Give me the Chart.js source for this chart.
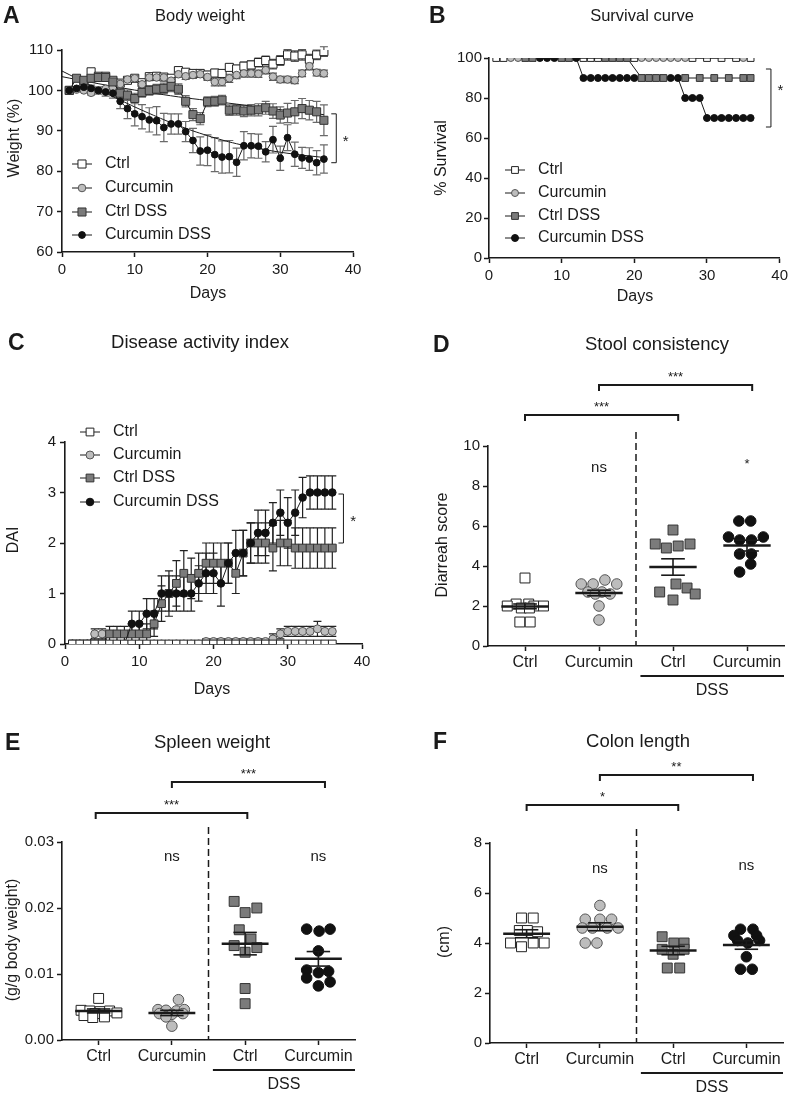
<!DOCTYPE html>
<html>
<head>
<meta charset="utf-8">
<title>Curcumin and DSS colitis</title>
<script src="https://cdn.jsdelivr.net/npm/chart.js@4.4.1/dist/chart.umd.min.js"></script>
<style>
  html, body { margin: 0; padding: 0; background: #fff; }
  body { position: relative; width: 792px; height: 1096px; overflow: hidden; }
  canvas { position: absolute; }
</style>
</head>
<body>
<canvas id="chartA"></canvas>
<canvas id="chartB"></canvas>
<canvas id="chartC"></canvas>
<canvas id="chartD"></canvas>
<canvas id="chartE"></canvas>
<canvas id="chartF"></canvas>
<script>
const FONT = '"Liberation Sans", Arial, Helvetica, sans-serif';
const INK = '#1a1a1a';

// ---------- data ----------
const groups = ['Ctrl', 'Curcumin', 'Ctrl DSS', 'Curcumin DSS'];
const catLabels = ['Ctrl', 'Curcumin', 'Ctrl', 'Curcumin'];
const days = [1, 2, 3, 4, 5, 6, 7, 8, 9, 10, 11, 12, 13, 14, 15, 16, 17, 18,
  19, 20, 21, 22, 23, 24, 25, 26, 27, 28, 29, 30, 31, 32, 33, 34, 35, 36];
const dayTicks = [0, 10, 20, 30, 40];

// A - body weight (%)
const aCtrl = [100, 101.5, 102, 104.6, 103.5, 103.5, 102.5, 101.8, 102.5, 103, 101.9, 103.4, 103.5, 103.3, 103, 104.9, 104.5, 104.2,
  104.2, 103.8, 104.3, 104.2, 105.7, 105.3, 106, 106.3, 106.9, 107.4, 106.5, 107.4, 108.8, 108.5, 108.8, 107.7, 108.8, 109.6];
const aCur = [100, 100.2, 100, 99.4, 100, 100.4, 100.8, 101.6, 102.7, 103, 101.5, 103.2, 103.2, 103.2, 102.4, 104, 103.5, 103.8,
  104, 103.3, 102.1, 102.1, 103, 103.8, 104.2, 104.2, 104.1, 105, 103.4, 102.7, 102.7, 102.5, 104.2, 106, 104.4, 104.2];
const aCtrlDSS = [100, 103, 102.5, 103, 103.2, 103.2, 102.1, 99.3, 98.8, 98, 99.5, 100, 100.3, 100.5, 101, 100.3, 97.3, 94,
  93, 97.2, 97.3, 97.6, 95.1, 95.2, 94.9, 95.1, 95.2, 95.7, 94.9, 93.9, 94.4, 94.7, 95.5, 95.1, 94.7, 92.6];
const aCurDSS = [100, 100.5, 100.8, 100.5, 100, 99.6, 99.3, 97.3, 95.5, 94.2, 93.5, 92.7, 92.5, 90.8, 91.7, 91.7, 89.8, 87.6,
  85, 85.2, 84.1, 83.5, 83.6, 82.2, 86.3, 86.3, 86.2, 84.8, 87.8, 83.2, 88.3, 84.2, 83.3, 83, 82.1, 83];
const aCtrlSem = [0, 0.6, 0.6, 0.8, 0.6, 0.6, 0.6, 0.6, 0.6, 0.6, 0.6, 0.6, 0.7, 0.7, 0.7, 0.8, 0.8, 0.8,
  0.8, 0.9, 0.9, 0.9, 0.9, 0.9, 1.0, 1.0, 1.1, 1.1, 1.2, 1.2, 1.3, 1.3, 1.3, 1.2, 1.2, 1.2];
const aCurSem = [0, 0.4, 0.4, 0.5, 0.5, 0.5, 0.5, 0.6, 0.6, 0.6, 0.7, 0.7, 0.7, 0.7, 0.7, 0.7, 0.8, 0.8,
  0.8, 0.8, 1.0, 1.0, 1.0, 0.9, 0.9, 0.9, 0.9, 0.9, 0.9, 0.8, 0.8, 0.8, 0.8, 0.9, 0.8, 0.8];
const aCtrlDSSSem = [0, 0.6, 0.7, 0.8, 0.8, 0.8, 0.9, 1.2, 1.3, 1.3, 1.2, 1.2, 1.2, 1.3, 1.3, 1.3, 1.4, 1.5,
  1.5, 1.2, 1.2, 1.2, 1.3, 1.3, 1.4, 1.4, 1.5, 1.6, 1.8, 2.0, 2.4, 2.8, 2.5, 2.4, 2.6, 3.8];
const aCurDSSSem = [0, 0.6, 0.7, 0.8, 0.9, 1.0, 1.2, 1.8, 2.5, 3.0, 3.0, 3.0, 3.5, 3.5, 2.5, 2.5, 2.5, 3.0,
  3.5, 3.8, 4.2, 4.0, 4.0, 3.5, 3.5, 3.0, 3.0, 2.5, 3.3, 3.0, 3.2, 3.0, 2.6, 2.8, 3.0, 3.5];
const aFitDays = [0, 4, 8, 12, 16, 20, 24, 28, 32, 36];
const aFitCtrlDSS = [103.4, 102.0, 100.7, 99.5, 98.4, 97.5, 96.6, 95.7, 94.8, 94.0];
const aFitCurDSS = [104.8, 101.2, 97.6, 94.3, 91.3, 88.8, 86.8, 85.3, 84.2, 83.4];
const aYTicks = [60, 70, 80, 90, 100, 110];

// B - survival (%)
const bCtrlDays = [1, 2, 13, 14, 15, 20, 28, 30, 32, 34, 36];
const bCtrl = [100, 100, 100, 100, 100, 100, 100, 100, 100, 100, 100];
const bCurDays = [3, 4, 21, 22, 23, 24, 25, 26, 27, 35];
const bCur = [100, 100, 100, 100, 100, 100, 100, 100, 100, 100];
const bCtrlDSSDays = [5, 6, 10, 11, 16, 17, 18, 19, 21, 22, 23, 24, 27, 29, 31, 33, 35, 36];
const bCtrlDSS = [100, 100, 100, 100, 100, 100, 100, 100, 90, 90, 90, 90, 90, 90, 90, 90, 90, 90];
const bCurDSSDays = [7, 8, 9, 12, 13, 14, 15, 16, 17, 18, 19, 20, 25, 26, 27, 28, 29, 30, 31, 32, 33, 34, 35, 36];
const bCurDSS = [100, 100, 100, 100, 90, 90, 90, 90, 90, 90, 90, 90, 90, 90, 80, 80, 80, 70, 70, 70, 70, 70, 70, 70];
const bYTicks = [0, 20, 40, 60, 80, 100];

// C - disease activity index
const cCtrl = [0, 0, 0, 0, 0, 0, 0, 0, 0, 0, 0, 0, 0, 0, 0, 0, 0, 0,
  0, 0, 0, 0, 0, 0, 0, 0, 0, 0, 0, 0, 0, 0, 0, 0, 0, 0];
const cCur = [0, 0, 0, 0.2, 0.2, 0, 0, 0, 0, 0, 0, 0, 0, 0, 0, 0, 0, 0,
  0.05, 0.05, 0.05, 0.05, 0.05, 0.05, 0.05, 0.05, 0.05, 0.1, 0.2, 0.25, 0.25, 0.25, 0.25, 0.3, 0.25, 0.25];
const cCtrlDSS = [0, 0, 0, 0, 0, 0.2, 0.2, 0.2, 0.2, 0.2, 0.2, 0.4, 0.8, 1.0, 1.2, 1.4, 1.3, 1.4,
  1.6, 1.6, 1.6, 1.6, 1.4, 1.8, 2.0, 2.0, 2.0, 1.9, 2.0, 2.0, 1.9, 1.9, 1.9, 1.9, 1.9, 1.9];
const cCurDSS = [0, 0, 0, 0, 0, 0, 0, 0, 0.4, 0.4, 0.6, 0.6, 1.0, 1.0, 1.0, 1.0, 1.0, 1.2,
  1.4, 1.4, 1.2, 1.6, 1.8, 1.8, 2.0, 2.2, 2.2, 2.4, 2.6, 2.4, 2.6, 2.9, 3.0, 3.0, 3.0, 3.0];
const cCurSem = [0, 0, 0, 0.1, 0.1, 0, 0, 0, 0, 0, 0, 0, 0, 0, 0, 0, 0, 0,
  0.05, 0.05, 0.05, 0.05, 0.05, 0.05, 0.05, 0.05, 0.05, 0.1, 0.1, 0.1, 0.1, 0.1, 0.1, 0.15, 0.1, 0.1];
const cCtrlDSSSem = [0, 0, 0, 0, 0, 0.15, 0.15, 0.15, 0.2, 0.2, 0.2, 0.25, 0.35, 0.45, 0.45, 0.45, 0.4, 0.4,
  0.4, 0.4, 0.4, 0.4, 0.4, 0.45, 0.4, 0.4, 0.4, 0.45, 0.45, 0.45, 0.4, 0.4, 0.4, 0.4, 0.4, 0.4];
const cCurDSSSem = [0, 0, 0, 0, 0, 0, 0, 0, 0.25, 0.25, 0.3, 0.3, 0.35, 0.35, 0.35, 0.35, 0.35, 0.35,
  0.4, 0.4, 0.45, 0.4, 0.45, 0.45, 0.4, 0.45, 0.45, 0.4, 0.45, 0.5, 0.45, 0.4, 0.33, 0.33, 0.33, 0.33];
const cYTicks = [0, 1, 2, 3, 4];

// D - diarrhea score (points, jitter in category units, mean, SEM)
const dCtrl = [3.4, 2.1, 2.1, 2.0, 2.0, 2.0, 1.9, 1.9, 1.2, 1.2];
const dCur = [3.1, 3.1, 3.3, 3.1, 2.7, 2.7, 2.6, 2.6, 2.0, 1.3];
const dCtrlDSS = [5.8, 5.1, 4.9, 5.0, 5.1, 3.1, 2.7, 2.9, 2.6, 2.3];
const dCurDSS = [6.25, 6.25, 5.45, 5.3, 5.3, 5.45, 4.6, 4.6, 4.1, 3.7];
const dJitter = [
  [0, -0.12, 0.05, -0.24, 0.12, 0.25, -0.05, 0.06, -0.07, 0.07],
  [-0.24, -0.08, 0.08, 0.24, -0.15, 0.04, -0.05, 0.15, 0, 0],
  [0, -0.24, -0.09, 0.07, 0.23, 0.04, -0.18, 0.19, 0.3, 0],
  [-0.11, 0.05, -0.25, -0.1, 0.06, 0.22, -0.1, 0.06, 0.05, -0.1]];
const dMean = [1.98, 2.65, 3.95, 5.02];
const dSem = [0.12, 0.14, 0.41, 0.27];
const dYTicks = [0, 2, 4, 6, 8, 10];

// E - spleen weight (g/g body weight)
const eCtrl = [0.0063, 0.0045, 0.0044, 0.0043, 0.0044, 0.0041, 0.0040, 0.0037, 0.0034, 0.0035];
const eCur = [0.0061, 0.0046, 0.0045, 0.0044, 0.0046, 0.0040, 0.0039, 0.0040, 0.0035, 0.0021];
const eCtrlDSS = [0.021, 0.0193, 0.020, 0.0167, 0.0153, 0.0143, 0.014, 0.0133, 0.0078, 0.0055];
const eCurDSS = [0.0168, 0.0165, 0.0168, 0.0135, 0.0106, 0.0104, 0.0094, 0.0102, 0.0088, 0.0082];
const eJitter = [
  [0, -0.24, -0.12, 0.02, 0.15, 0.25, -0.05, -0.2, -0.08, 0.08],
  [0.09, -0.19, -0.08, 0.06, 0.17, -0.17, 0, 0.15, -0.08, 0],
  [-0.15, 0, 0.16, -0.08, 0.08, -0.15, 0.16, 0, 0, 0],
  [-0.16, 0.01, 0.16, 0, -0.16, 0.14, -0.16, 0, 0.16, 0]];
const eMean = [0.0044, 0.0041, 0.0146, 0.0123];
const eSem = [0.0003, 0.0004, 0.0017, 0.0011];
const eYTicks = [0, 0.01, 0.02, 0.03];

// F - colon length (cm)
const fCtrl = [5.0, 5.0, 4.5, 4.5, 4.45, 4.0, 3.85, 4.0, 4.0];
const fCur = [5.5, 4.95, 4.95, 4.95, 4.6, 4.6, 4.6, 4.6, 4.0, 4.0];
const fCtrlDSS = [4.25, 4.0, 4.0, 3.75, 3.55, 3.75, 3.0, 3.0];
const fCurDSS = [4.55, 4.55, 4.3, 4.3, 4.1, 4.0, 4.1, 3.45, 2.95, 2.95];
const fJitter = [
  [-0.07, 0.09, -0.1, 0.01, 0.15, -0.22, -0.07, 0.09, 0.24],
  [0, -0.2, 0, 0.16, -0.24, -0.1, 0.1, 0.25, -0.2, -0.04],
  [-0.15, 0.01, 0.15, -0.15, 0, 0.15, -0.08, 0.09],
  [-0.08, 0.09, -0.17, 0.14, -0.12, 0.02, 0.18, 0, -0.08, 0.08]];
const fMean = [4.37, 4.65, 3.7, 3.92];
const fSem = [0.16, 0.16, 0.17, 0.17];
const fYTicks = [0, 2, 4, 6, 8];

// ---------- looks ----------
const look = [
  {style: 'rect', fill: '#ffffff', stroke: '#222'},
  {style: 'circle', fill: '#bdbdbd', stroke: '#555'},
  {style: 'rect', fill: '#7b7b7b', stroke: '#333'},
  {style: 'circle', fill: '#111111', stroke: '#111'}
];

// ---------- drawing helpers ----------
function text(ctx, s, x, y, size, align, bold, base) {
  ctx.font = (bold ? 'bold ' : '') + size + 'px ' + FONT;
  ctx.fillStyle = INK;
  ctx.textAlign = align || 'center';
  ctx.textBaseline = base || 'middle';
  ctx.fillText(s, x, y);
}
function vtext(ctx, s, x, y, size) {
  ctx.save();
  ctx.translate(x, y);
  ctx.rotate(-Math.PI / 2);
  text(ctx, s, 0, 0, size);
  ctx.restore();
}
function seg(ctx, pts, w, dash, color) {
  ctx.save();
  ctx.strokeStyle = color || INK;
  ctx.lineWidth = w;
  ctx.setLineDash(dash || []);
  ctx.beginPath();
  pts.forEach((p, i) => i ? ctx.lineTo(p[0], p[1]) : ctx.moveTo(p[0], p[1]));
  ctx.stroke();
  ctx.restore();
}
function marker(ctx, lk, x, y, r) {
  ctx.save();
  ctx.fillStyle = lk.fill;
  ctx.strokeStyle = lk.stroke;
  ctx.lineWidth = 1;
  ctx.beginPath();
  if (lk.style === 'rect') {
    const h = r * Math.SQRT1_2;
    ctx.rect(x - h, y - h, 2 * h, 2 * h);
  } else {
    ctx.arc(x, y, r, 0, Math.PI * 2);
  }
  ctx.fill();
  ctx.stroke();
  ctx.restore();
}
function legend(ctx, x, tx, ys, r) {
  groups.forEach((g, i) => {
    seg(ctx, [[x - 10, ys[i]], [x + 10, ys[i]]], 1);
    marker(ctx, look[i], x, ys[i], r[i]);
    text(ctx, g, tx, ys[i], 16, 'left');
  });
}

// error bars from a dataset's own sem array
const errorBars = {
  id: 'errorBars',
  beforeDatasetsDraw(chart) {
    const ctx = chart.ctx, ys = chart.scales.y;
    chart.data.datasets.forEach((ds, di) => {
      if (!ds.sem) return;
      const meta = chart.getDatasetMeta(di);
      ctx.save();
      ctx.strokeStyle = ds.errColor || INK;
      ctx.lineWidth = 1.2;
      meta.data.forEach((pt, k) => {
        const s = ds.sem[k];
        if (!s) return;
        const v = ds.data[k].y;
        const t = ys.getPixelForValue(v + s), b = ys.getPixelForValue(v - s);
        ctx.beginPath();
        ctx.moveTo(pt.x, t); ctx.lineTo(pt.x, b);
        ctx.moveTo(pt.x - 4, t); ctx.lineTo(pt.x + 4, t);
        ctx.moveTo(pt.x - 4, b); ctx.lineTo(pt.x + 4, b);
        ctx.stroke();
      });
      ctx.restore();
    });
  }
};

function axis(o, dim, size) {
  return {
    type: 'linear',
    min: o.min,
    max: o.max,
    grid: {drawOnChartArea: false, drawTicks: true, tickLength: 5, tickWidth: 1.5, tickColor: INK},
    border: {display: true, color: INK, width: 1.6},
    ticks: Object.assign({color: INK, font: {family: FONT, size: 15}, padding: 3, autoSkip: false, maxRotation: 0}, o.ticks || {}),
    afterBuildTicks: s => { s.ticks = o.at.map(v => ({value: v})); },
    afterFit: s => { s[dim] = size; }
  };
}

// box = canvas [left, top, w, h] on page, area = plot [left, top, right, bottom] on page
function makeChart(id, box, area, datasets, xOpt, yOpt, draw) {
  const cv = document.getElementById(id);
  cv.width = box[2];
  cv.height = box[3];
  cv.style.left = box[0] + 'px';
  cv.style.top = box[1] + 'px';
  const yW = 40, xH = 30;
  return new Chart(cv, {
    data: {datasets},
    options: {
      responsive: false,
      animation: false,
      events: [],
      layout: {padding: {
        left: area[0] - box[0] - yW,
        top: area[1] - box[1],
        right: box[0] + box[2] - area[2],
        bottom: box[1] + box[3] - area[3] - xH
      }},
      plugins: {legend: {display: false}, tooltip: {enabled: false}, title: {display: false}},
      scales: {x: axis(xOpt, 'height', xH), y: axis(yOpt, 'width', yW)}
    },
    plugins: [errorBars, {
      id: 'deco',
      afterDraw(chart) {
        const ctx = chart.ctx;
        const X = v => chart.scales.x.getPixelForValue(v) + box[0];
        const Y = v => chart.scales.y.getPixelForValue(v) + box[1];
        ctx.save();
        ctx.translate(-box[0], -box[1]);
        draw(chart, ctx, X, Y);
        ctx.restore();
      }
    }]
  });
}

function series(i, xs, ys, sem, r, order, errColor) {
  const lk = look[i];
  return {
    type: 'line',
    label: groups[i],
    data: xs.map((x, k) => ({x, y: ys[k]})),
    sem: sem,
    errColor: errColor,
    borderColor: INK,
    borderWidth: 1,
    tension: 0,
    fill: false,
    pointStyle: lk.style,
    pointRadius: r,
    pointBackgroundColor: lk.fill,
    pointBorderColor: lk.stroke,
    pointBorderWidth: 1,
    order: order
  };
}
function fitLine(xs, ys) {
  return {type: 'line', data: xs.map((x, k) => ({x, y: ys[k]})), borderColor: INK, borderWidth: 1,
    pointRadius: 0, tension: 0.4, fill: false, order: 10};
}

// ---------- A: body weight ----------
const aR = [5.7, 3.8, 5.7, 3.4];
makeChart('chartA', [0, 0, 396, 310], [62, 50, 353, 252], [
    fitLine(aFitDays, aFitCtrlDSS),
    fitLine(aFitDays, aFitCurDSS),
    series(0, days, aCtrl, aCtrlSem, aR[0], 4, '#555'),
    series(1, days, aCur, aCurSem, aR[1], 3, '#555'),
    series(2, days, aCtrlDSS, aCtrlDSSSem, aR[2], 2, '#6a6a6a'),
    series(3, days, aCurDSS, aCurDSSSem, aR[3], 1, '#6a6a6a')
  ],
  {min: 0, max: 40, at: dayTicks, ticks: {padding: 4}},
  {min: 60, max: 110, at: aYTicks, ticks: {padding: 4}},
  (chart, ctx, X, Y) => {
    text(ctx, 'A', 3, 17, 23, 'left', true);
    text(ctx, 'Body weight', 200, 16, 16.5);
    vtext(ctx, 'Weight (%)', 15, 138, 16);
    text(ctx, 'Days', 208, 294, 16);
    legend(ctx, 82, 105, [164, 188, 212, 235], aR);
    seg(ctx, [[X(37.7) - 5, Y(94.2)], [X(37.7), Y(94.2)], [X(37.7), Y(82.1)], [X(37.7) - 5, Y(82.1)]], 1);
    text(ctx, '*', X(39.0), Y(87.3), 15);
  });

// ---------- B: survival ----------
const bR = [4.8, 3.5, 4.8, 3.5];
makeChart('chartB', [396, 0, 396, 310], [489, 58, 781, 258], [
    series(0, bCtrlDays, bCtrl, null, bR[0], 4),
    series(1, bCurDays, bCur, null, bR[1], 3),
    series(2, bCtrlDSSDays, bCtrlDSS, null, bR[2], 1),
    series(3, bCurDSSDays, bCurDSS, null, bR[3], 2)
  ],
  {min: 0, max: 40, at: dayTicks, ticks: {padding: 4}},
  {min: 0, max: 100, at: bYTicks, ticks: {padding: 2}},
  (chart, ctx, X, Y) => {
    text(ctx, 'B', 429, 17, 23, 'left', true);
    text(ctx, 'Survival curve', 642, 16, 16.5);
    vtext(ctx, '% Survival', 442, 158, 16);
    text(ctx, 'Days', 635, 297, 16);
    legend(ctx, 515, 538, [170, 193, 216, 238], bR);
    seg(ctx, [[X(38.8) - 5, Y(94.5)], [X(38.8), Y(94.5)], [X(38.8), Y(65.5)], [X(38.8) - 5, Y(65.5)]], 1);
    text(ctx, '*', X(40.1), Y(83.5), 15);
  });

// ---------- C: disease activity index ----------
const cR = [5.5, 4, 5.5, 3.8];
makeChart('chartC', [0, 300, 396, 400], [65, 442, 362, 644], [
    series(0, days, cCtrl, null, cR[0], 1),
    series(1, days, cCur, cCurSem, cR[1], 4, '#222'),
    series(2, days, cCtrlDSS, cCtrlDSSSem, cR[2], 3, '#222'),
    series(3, days, cCurDSS, cCurDSSSem, cR[3], 2, '#222')
  ],
  {min: 0, max: 40, at: dayTicks, ticks: {padding: 4}},
  {min: 0, max: 4, at: cYTicks, ticks: {padding: 4}},
  (chart, ctx, X, Y) => {
    text(ctx, 'C', 8, 344, 23, 'left', true);
    text(ctx, 'Disease activity index', 200, 343, 18.5);
    vtext(ctx, 'DAI', 14, 540, 16);
    text(ctx, 'Days', 212, 690, 16);
    legend(ctx, 90, 113, [432, 455, 478, 502], cR);
    seg(ctx, [[X(37.5) - 5, Y(2.97)], [X(37.5), Y(2.97)], [X(37.5), Y(2.0)], [X(37.5) - 5, Y(2.0)]], 1);
    text(ctx, '*', X(38.8), Y(2.42), 15);
  });

// ---------- D, E, F: scatter with mean and SEM ----------
const gR = [7, 5.3, 7, 5.3];
function groupPanel(id, box, area, vals, jit, means, sems, yTicks, yFmt, notes) {
  const ds = vals.map((v, i) => ({
    type: 'scatter',
    label: groups[i],
    data: v.map((y, k) => ({x: i + 1 + jit[i][k], y})),
    pointStyle: look[i].style,
    pointRadius: gR[i],
    pointBackgroundColor: look[i].fill,
    pointBorderColor: look[i].stroke,
    pointBorderWidth: 1,
    order: 4 - i
  }));
  return makeChart(id, box, area, ds,
    {min: 0.5, max: 4.5, at: [1, 2, 3, 4], ticks: {padding: 2, font: {family: FONT, size: 16}, callback: (v, i) => catLabels[i]}},
    {min: yTicks[0], max: yTicks[yTicks.length - 1], at: yTicks, ticks: {padding: 3, callback: yFmt}},
    (chart, ctx, X, Y) => {
      text(ctx, notes.letter[0], notes.letter[1], notes.letter[2], 23, 'left', true);
      text(ctx, notes.title[0], notes.title[1], notes.title[2], 18.5);
      vtext(ctx, notes.yTitle[0], notes.yTitle[1], notes.yTitle[2], 16);
      means.forEach((m, i) => {
        const c = i + 1, hi = Y(m + sems[i]), lo = Y(m - sems[i]);
        seg(ctx, [[X(c - 0.32), Y(m)], [X(c + 0.32), Y(m)]], 2.5);
        seg(ctx, [[X(c), hi], [X(c), lo]], 1.6);
        seg(ctx, [[X(c - 0.16), hi], [X(c + 0.16), hi]], 1.6);
        seg(ctx, [[X(c - 0.16), lo], [X(c + 0.16), lo]], 1.6);
      });
      seg(ctx, [[X(2.5), Y(notes.dashTop)], [X(2.5), Y(yTicks[0])]], 1.5, [7, 4]);
      notes.brackets.forEach(b => {
        const y = Y(b[2]);
        seg(ctx, [[X(b[0]), y + 6], [X(b[0]), y], [X(b[1]), y], [X(b[1]), y + 6]], 2);
        text(ctx, b[3], (X(b[0]) + X(b[1])) / 2, y - 4, 13, 'center', false, 'alphabetic');
      });
      notes.marks.forEach(m => text(ctx, m[2], X(m[0]), Y(m[1]), m[3]));
      const base = Y(yTicks[0]);
      seg(ctx, [[X(2.56), base + 30], [X(4.5), base + 30]], 1.8);
      text(ctx, 'DSS', (X(2.56) + X(4.5)) / 2, base + 45, 16);
    });
}

groupPanel('chartD', [396, 300, 396, 400], [488, 446, 784, 646],
  [dCtrl, dCur, dCtrlDSS, dCurDSS], dJitter, dMean, dSem, dYTicks, v => v,
  {letter: ['D', 433, 346], title: ['Stool consistency', 657, 345], yTitle: ['Diarreah score', 443, 545],
   dashTop: 10.7,
   brackets: [[2, 4.07, 13.05, '***'], [1, 3.07, 11.55, '***']],
   marks: [[2, 8.9, 'ns', 15], [4, 9.1, '*', 13]]});

groupPanel('chartE', [0, 700, 396, 396], [62, 842, 355, 1040],
  [eCtrl, eCur, eCtrlDSS, eCurDSS], eJitter, eMean, eSem, eYTicks, v => v.toFixed(2),
  {letter: ['E', 5, 744], title: ['Spleen weight', 212, 743], yTitle: ['(g/g body weight)', 13, 940],
   dashTop: 0.03227,
   brackets: [[2, 4.09, 0.0391, '***'], [0.96, 3.03, 0.0344, '***']],
   marks: [[2, 0.0277, 'ns', 15], [4, 0.0277, 'ns', 15]]});

groupPanel('chartF', [396, 700, 396, 396], [490, 843, 783, 1043],
  [fCtrl, fCur, fCtrlDSS, fCurDSS], fJitter, fMean, fSem, fYTicks, v => v,
  {letter: ['F', 433, 743], title: ['Colon length', 638, 742], yTitle: ['(cm)', 445, 942],
   dashTop: 8.56,
   brackets: [[2, 4.09, 10.72, '**'], [1, 3.07, 9.52, '*']],
   marks: [[2, 6.96, 'ns', 15], [4, 7.08, 'ns', 15]]});
</script>
</body>
</html>
